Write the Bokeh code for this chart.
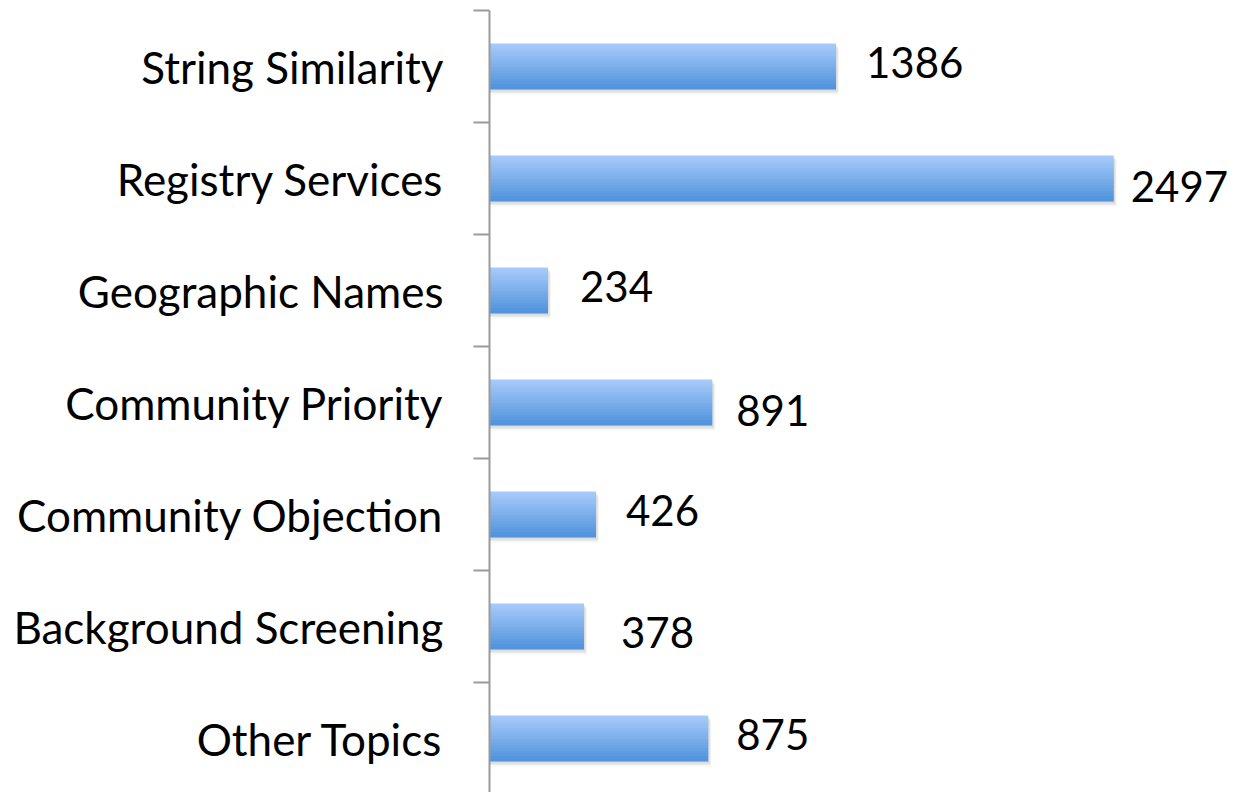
from bokeh.plotting import figure
from bokeh.models import Range1d, FixedTicker, ColumnDataSource
from bokeh.core.properties import value
from bokeh.embed import file_html
from bokeh.resources import INLINE

# ---- data ----
categories = ["String Similarity", "Registry Services", "Geographic Names",
              "Community Priority", "Community Objection", "Background Screening",
              "Other Topics"]
counts = [1386, 2497, 234, 891, 426, 378, 875]

# ---- label placement (style, screen px) ----
label_dx = [30, 17, 32, 24, 30, 37, 28]
label_dy = [-4, 8, -4, 8, -4, 6, -4]

FONT = "Lato"
FSIZE = "44px"
VSIZE = "42px"
AXIS_GRAY = "#9a9a9a"

n = len(categories)
ys = [n - 0.5 - i for i in range(n)]

W, H = 1234, 792
left_px, top_px = 489, 10
band_px = 112
frame_h = H - top_px
frame_w = W - left_px
px_per_unit = 0.25
x_end = frame_w / px_per_unit

p = figure(width=W, height=H, output_backend="svg", toolbar_location=None,
           x_range=Range1d(0, x_end), y_range=Range1d(n - frame_h / band_px, n),
           x_axis_location=None, y_axis_location="left",
           min_border_left=left_px, min_border_top=top_px,
           min_border_right=0, min_border_bottom=0)
p.grid.visible = False
p.outline_line_color = None
p.background_fill_color = "white"
p.border_fill_color = "white"

bar_h = 46 / band_px

# soft shadow
for off_px, alpha in [(5, 0.07), (3.5, 0.10), (2, 0.14)]:
    p.hbar(y=[y - off_px / band_px for y in ys], left=0,
           right=[c + off_px / px_per_unit * 0.6 for c in counts],
           height=bar_h, fill_color="#808080", fill_alpha=alpha, line_color=None)

# vertical gradient bars built from thin strips
top_c = (0xA9, 0xCC, 0xFB)
bot_c = (0x4D, 0x92, 0xDA)
nstrip = 18
for k in range(nstrip):
    t = (k + 0.5) / nstrip
    col = "#%02x%02x%02x" % tuple(int(round(a + (b - a) * t)) for a, b in zip(top_c, bot_c))
    off = bar_h / 2 - (k + 0.5) * bar_h / nstrip
    hh = bar_h / nstrip * (1.25 if 0 < k < nstrip - 1 else 1.0)
    p.hbar(y=[y + off for y in ys], left=0, right=counts, height=hh,
           fill_color=col, line_color=None)

src = ColumnDataSource(dict(x=counts, y=ys, t=[str(c) for c in counts],
                            dx=label_dx, dy=label_dy))
p.text(x="x", y="y", text="t", x_offset="dx", y_offset="dy", source=src,
       text_font=value(FONT), text_font_size=VSIZE, text_color="black",
       text_align="left", text_baseline="middle")

ax = p.yaxis[0]
ax.ticker = FixedTicker(ticks=ys, minor_ticks=list(range(n + 1)))
ax.major_label_overrides = {y: c for y, c in zip(ys, categories)}
ax.major_tick_line_color = None
ax.major_tick_out = 0
ax.major_tick_in = 0
ax.minor_tick_out = 16
ax.minor_tick_in = 0
ax.minor_tick_line_color = AXIS_GRAY
ax.minor_tick_line_width = 2
ax.axis_line_color = AXIS_GRAY
ax.axis_line_width = 2
ax.major_label_text_font = FONT
ax.major_label_text_font_size = FSIZE
ax.major_label_text_color = "black"
ax.major_label_standoff = 30

open("out.html", "w").write(file_html(p, INLINE))
